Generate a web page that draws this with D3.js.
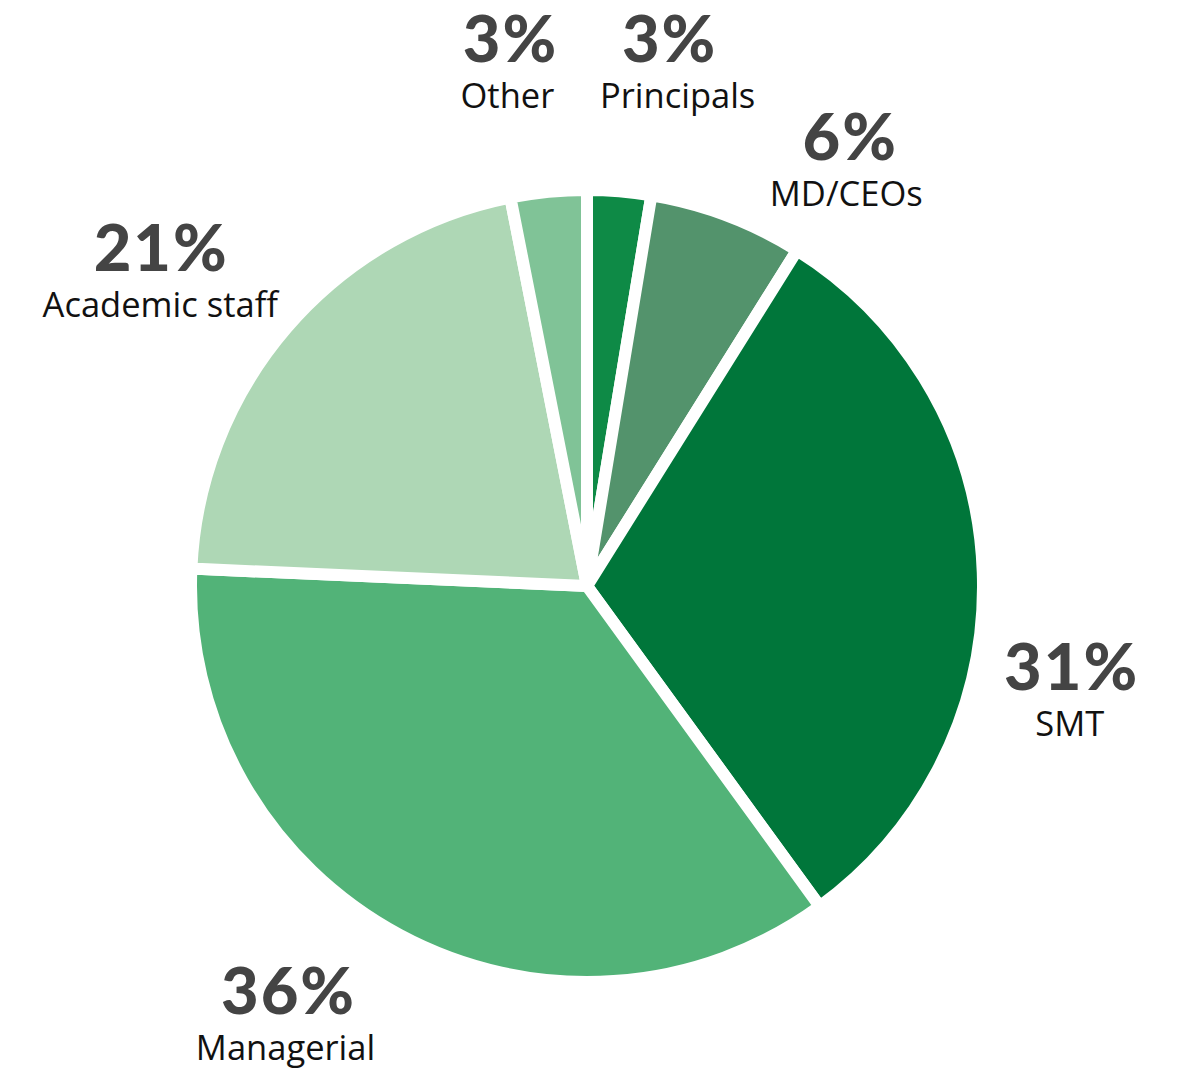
<!DOCTYPE html>
<html>
<head>
<meta charset="utf-8">
<script src="https://cdn.jsdelivr.net/npm/d3@7"></script>
<style>
  html, body { margin: 0; padding: 0; background: #ffffff; }
  svg { display: block; }
</style>
</head>
<body>
<div id="chart"></div>
<script>
// ---- Data (clockwise from 12 o'clock) ----
const categories = ["Principals", "MD/CEOs", "SMT", "Managerial", "Academic staff", "Other"];
const values = [2.6, 6.3, 31.1, 35.7, 21.2, 3.1];
const colors = ["#0e8a46", "#53936c", "#00763a", "#52b378", "#aed7b5", "#80c397"];

// ---- Layout ----
const W = 1189, H = 1072;
const cx = 587, cy = 586;
const R = 396;
const labelR = 510;
// label block nudges (dx, dy) from the arc centroid at labelR, and sub-label x nudges
const labelNudge = [[40, -16], [82, 51], [-26, 122], [-58, -21], [-40, 17], [-28, -16]];
const subDx = [9, -3, -1, -2, 0, -2];

const svg = d3.select("#chart").append("svg")
  .attr("width", W).attr("height", H)
  .attr("viewBox", `0 0 ${W} ${H}`);

svg.append("rect").attr("width", W).attr("height", H).attr("fill", "#fff");

const data = categories.map((c, i) => ({ category: c, value: values[i], color: colors[i] }));

const pie = d3.pie().sort(null).value(d => d.value);
const arcs = pie(data);

const arc = d3.arc().innerRadius(0).outerRadius(R);
const labelArc = d3.arc().innerRadius(labelR).outerRadius(labelR);

const g = svg.append("g").attr("transform", `translate(${cx},${cy})`);

g.selectAll("path.slice")
  .data(arcs)
  .join("path")
  .attr("class", "slice")
  .attr("d", arc)
  .attr("fill", d => d.data.color)
  .attr("stroke", "#ffffff")
  .attr("stroke-width", 12)
  .attr("stroke-linejoin", "miter");

const fmt = v => Math.round(v) + "%";

const lbl = g.selectAll("g.lbl")
  .data(arcs)
  .join("g")
  .attr("class", "lbl")
  .attr("transform", (d, i) => {
    const [x, y] = labelArc.centroid(d);
    return `translate(${x + labelNudge[i][0]},${y + labelNudge[i][1]})`;
  });

lbl.append("text")
  .attr("text-anchor", "middle")
  .attr("x", 1)
  .attr("font-family", "Lato, 'Open Sans', sans-serif")
  .attr("font-weight", 900)
  .attr("font-size", 65)
  .attr("letter-spacing", 2)
  .attr("fill", "#444444")
  .text(d => fmt(d.data.value));

lbl.append("text")
  .attr("text-anchor", "middle")
  .attr("x", (d, i) => subDx[i])
  .attr("y", 46)
  .attr("font-family", "'Open Sans', 'Noto Sans', sans-serif")
  .attr("font-weight", 400)
  .attr("font-size", 34.5)
  .attr("fill", "#111111")
  .text(d => d.data.category);
</script>
</body>
</html>
